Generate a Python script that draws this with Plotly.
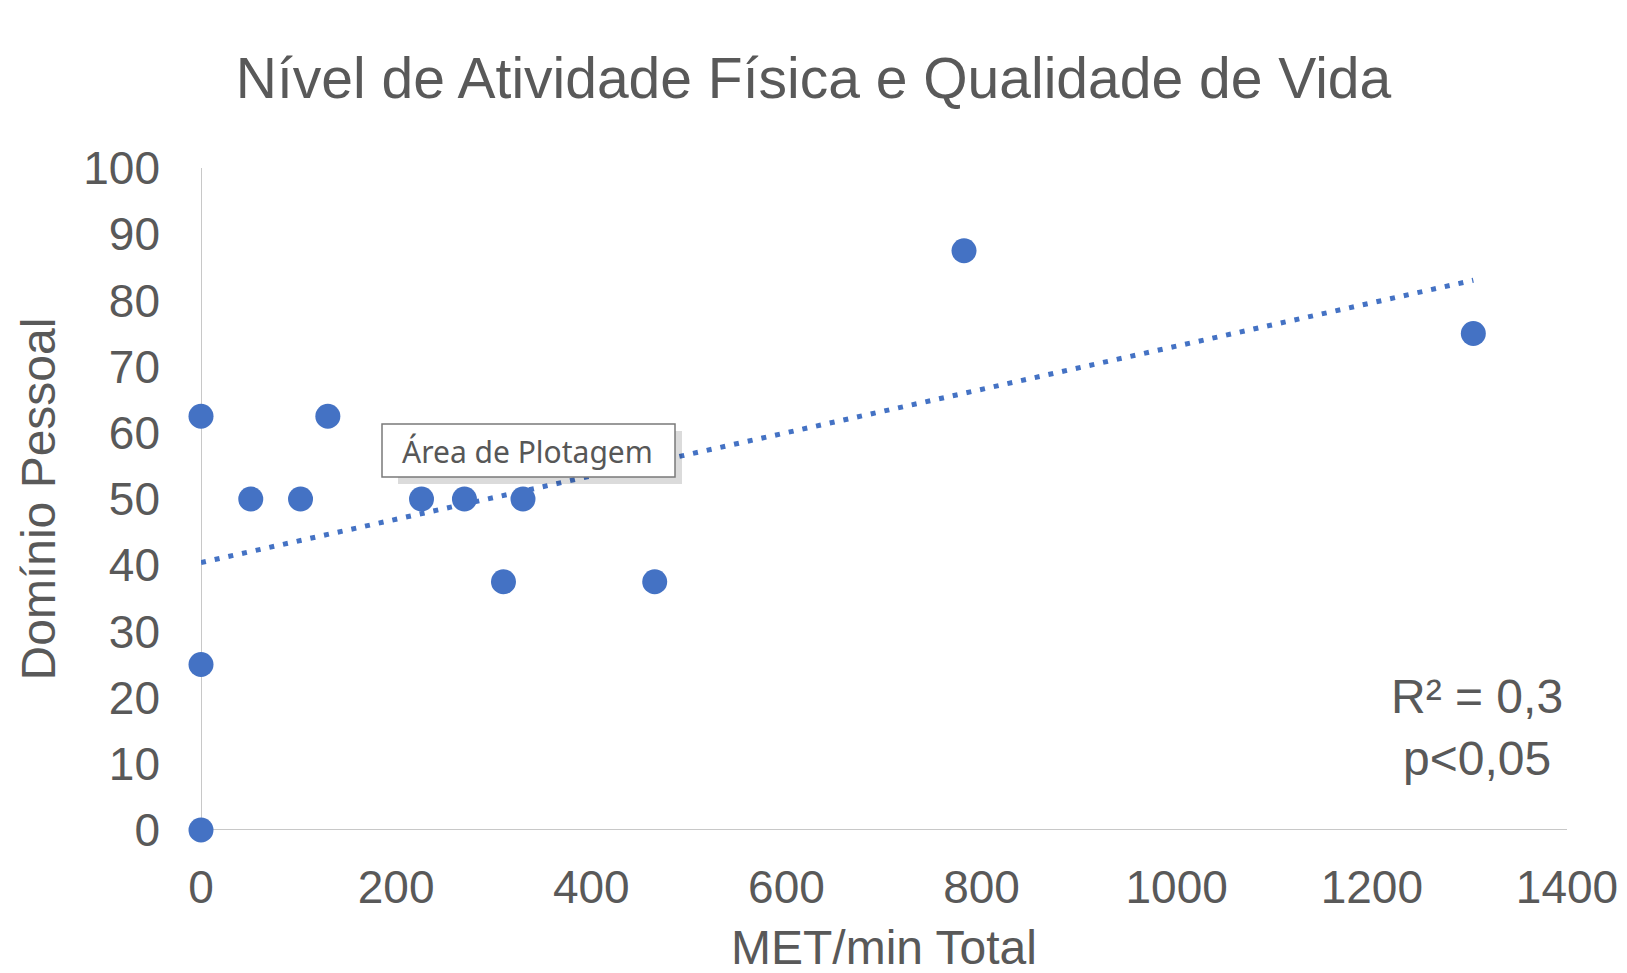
import plotly.graph_objects as go

# ---- data ----
met_min_total = [0, 0, 0, 51, 102, 130, 226, 270, 310, 330, 465, 782, 1304]
dominio_pessoal = [62.5, 25, 0, 50, 50, 62.5, 50, 50, 37.5, 50, 37.5, 87.5, 75]
trend_intercept = 40.4
trend_slope = 0.0327
x_ticks = [0, 200, 400, 600, 800, 1000, 1200, 1400]
y_ticks = [0, 10, 20, 30, 40, 50, 60, 70, 80, 90, 100]
title_text = "Nível de Atividade Física e Qualidade de Vida"
x_title = "MET/min Total"
y_title = "Domínio Pessoal"
stats_text = "R² = 0,3<br>p&lt;0,05"
tooltip_text = "Área de Plotagem"

# ---- layout constants ----
W, H = 1627, 973
ML, MR, MT, MB = 201, 60, 168, 143
PW, PH = W - ML - MR, H - MT - MB
FONT = "Liberation Sans, Arial, sans-serif"
GREY = "#595959"
BLUE = "#4472C4"


def px_x(p):
    return (p - ML) / PW


def px_y(p):
    return (H - MB - p) / PH


trend_x = [min(met_min_total), max(met_min_total)]
trend_y = [trend_intercept + trend_slope * v for v in trend_x]

fig = go.Figure()
fig.add_trace(go.Scatter(
    x=trend_x, y=trend_y, mode="lines",
    line=dict(color=BLUE, width=5, dash="5px,9px"),
    hoverinfo="skip", showlegend=False, cliponaxis=False,
))
fig.add_trace(go.Scatter(
    x=met_min_total, y=dominio_pessoal, mode="markers",
    marker=dict(color=BLUE, size=25, line=dict(width=0)),
    showlegend=False, cliponaxis=False,
))

fig.update_layout(
    width=W, height=H,
    margin=dict(l=ML, r=MR, t=MT, b=MB, autoexpand=False),
    paper_bgcolor="white", plot_bgcolor="white",
    font=dict(family=FONT, color=GREY),
    title=dict(text=title_text, x=0.5, xref="container", xanchor="center",
               y=1 - 78 / H, yref="container", yanchor="middle",
               font=dict(size=57, color=GREY, family=FONT)),
    xaxis=dict(
        range=[0, 1400], tickvals=x_ticks, ticktext=[str(v) for v in x_ticks],
        showgrid=False, zeroline=False, showline=False, ticks="",
        tickfont=dict(size=46, color=GREY), ticklabelstandoff=26,
    ),
    yaxis=dict(
        range=[0, 100], tickvals=y_ticks, ticktext=[str(v) for v in y_ticks],
        showgrid=False, zeroline=False, showline=False, ticks="",
        tickfont=dict(size=46, color=GREY), ticklabelstandoff=40,
        title=dict(text=y_title, font=dict(size=48, color=GREY), standoff=12),
    ),
    shapes=[
        # axis lines (Excel style)
        dict(type="line", xref="x", yref="y", x0=0, x1=1400, y0=0, y1=0,
             line=dict(color="#C8C8C8", width=2), layer="below"),
        dict(type="line", xref="x", yref="y", x0=0, x1=0, y0=0, y1=100,
             line=dict(color="#C8C8C8", width=2), layer="below"),
        # tooltip shadow and box
        dict(type="rect", xref="paper", yref="paper",
             x0=px_x(398), x1=px_x(682), y0=px_y(484), y1=px_y(431),
             fillcolor="rgba(0,0,0,0.14)", line=dict(width=0), layer="above"),
        dict(type="rect", xref="paper", yref="paper",
             x0=px_x(382), x1=px_x(675), y0=px_y(477), y1=px_y(424),
             fillcolor="white", line=dict(color="#7A7A7A", width=1.5), layer="above"),
    ],
    annotations=[
        # x-axis title
        dict(text=x_title, xref="paper", yref="paper",
             x=0.5, y=px_y(947), xanchor="center", yanchor="middle",
             showarrow=False, font=dict(size=48, color=GREY, family=FONT)),
        dict(text=stats_text, xref="paper", yref="paper",
             x=px_x(1477), y=px_y(727), xanchor="center", yanchor="middle",
             align="center", showarrow=False,
             font=dict(size=48, color=GREY, family=FONT)),
        dict(text=tooltip_text, xref="paper", yref="paper",
             x=px_x(527), y=px_y(451), xanchor="center", yanchor="middle",
             showarrow=False,
             font=dict(size=30, color="#575757", family="Noto Sans, Open Sans, sans-serif")),
    ],
)

fig.write_html("out.html")
